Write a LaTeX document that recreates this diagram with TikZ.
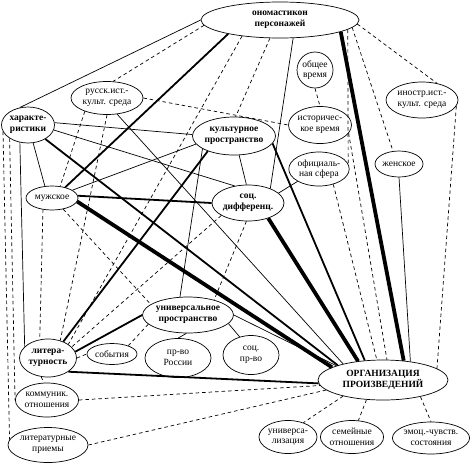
\documentclass[tikz,border=0pt]{standalone}
\usepackage{fontspec}
\setmainfont{Liberation Serif}
\usetikzlibrary{shapes.geometric}
\begin{document}
\begin{tikzpicture}[x=1pt,y=-1pt,
  nd/.style={draw,ellipse,inner sep=0pt,align=center,line width=0.7pt,
    font=\fontsize{9.5}{10.5}\selectfont},
  bn/.style={nd,font=\fontsize{9.5}{10.5}\selectfont\bfseries},
  tn/.style={line width=0.7pt},
  tk/.style={line width=1.8pt},
  vt/.style={line width=3.8pt},
  ds/.style={line width=0.7pt,dash pattern=on 3.5pt off 3pt}]
\useasboundingbox (0,0) rectangle (470,464);
% nodes
\node[bn,minimum width=158pt,minimum height=36pt] (onom) at (280,20) {ономастикон\\персонажей};
\node[nd,minimum width=72pt,minimum height=33pt] (russk) at (107,98) {русск.ист.-\\культ. среда};
\node[bn,minimum width=53pt,minimum height=36pt] (harakt) at (28,125) {характе-\\ристики};
\node[nd,minimum width=36pt,minimum height=36pt] (obsh) at (315,70) {общее\\время};
\node[nd,minimum width=62pt,minimum height=37pt] (istor) at (320,125) {историчес-\\кое время};
\node[nd,minimum width=72pt,minimum height=36pt] (inostr) at (422,100) {иностр.ист.-\\культ. среда};
\node[bn,minimum width=82pt,minimum height=38pt] (kult) at (234,136) {культурное\\пространство};
\node[nd,minimum width=60pt,minimum height=34pt] (ofic) at (319,169) {официаль-\\ная сфера};
\node[nd,minimum width=48pt,minimum height=26pt] (zhen) at (399,164) {женское};
\node[nd,minimum width=52pt,minimum height=24pt] (muzh) at (52,198) {мужское};
\node[bn,minimum width=72pt,minimum height=36pt] (soc) at (248,203) {соц.\\дифференц.};
\node[bn,minimum width=87pt,minimum height=36pt] (univ) at (188,315) {универсальное\\пространство};
\node[bn,minimum width=57pt,minimum height=38pt] (lit) at (48,358) {литера-\\турность};
\node[nd,minimum width=50pt,minimum height=21pt] (sob) at (112,354) {события};
\node[nd,minimum width=66pt,minimum height=39pt] (prRos) at (178,358) {пр-во\\России};
\node[nd,minimum width=56pt,minimum height=39pt] (socpr) at (251,355) {соц.\\пр-во};
\node[bn,minimum width=130pt,minimum height=40pt] (org) at (383,380) {ОРГАНИЗАЦИЯ\\ПРОИЗВЕДЕНИЙ};
\node[nd,minimum width=61pt,minimum height=34pt] (komm) at (47,400) {коммуник.\\отношения};
\node[nd,minimum width=80pt,minimum height=35pt] (litpr) at (48,445) {литературные\\приемы};
\node[nd,minimum width=58pt,minimum height=33pt] (univl) at (288,437) {универса-\\лизация};
\node[nd,minimum width=51pt,minimum height=33pt] (sem) at (352,437) {семейные\\отношения};
\node[nd,minimum width=76pt,minimum height=32pt] (emoc) at (431,438) {эмоц.-чувств.\\состояния};
% onom
\draw[tn] (onom.west) -- (harakt.115);
\draw[ds] (onom.184) -- (russk.70);
\draw[tk] (onom.195) -- (muzh.39);
\draw[ds] (onom.203) -- (lit.34);
\draw[ds] (onom.241) -- (kult.85);
\draw[tn] (onom.306) -- (soc.33);
\draw[vt] (onom.349) -- (org.43);
\draw[ds] (onom.352) -- (ofic.10);
\draw[ds] (onom.354) -- (zhen.115);
\draw[ds] (onom.357) -- (inostr.48);
% russk
\draw[ds] (russk.east) -- (istor.west);
\draw[ds] (russk.211) -- (muzh.55);
\draw[ds] (russk.south) -- (lit.55);
\draw[tn] (russk.302) -- (org.158);
% harakt
\draw[tn] (harakt.5) -- (kult.178);
\draw[tn] (harakt.349) -- (soc.128);
\draw[tk] (harakt.321) -- (org.162);
\draw[tn] (harakt.286) -- (muzh.121);
\draw[tn] (harakt.245) -- (lit.154);
\draw[ds] (harakt.216) -- (komm.west);
\draw[ds] (harakt.195) -- (litpr.172);
% upper right
\draw[ds] (obsh.south) -- (istor.north);
\draw[ds] (istor.344) -- (org.79);
\draw[ds] (ofic.313) -- (org.107);
\draw[tn] (ofic.210) -- (soc.18);
\draw[ds] (inostr.350) -- (org.12);
\draw[tn] (zhen.south) -- (org.34);
% kult
\draw[tn] (kult.192) -- (muzh.21);
\draw[tn] (kult.285) -- (soc.95);
\draw[tk] (kult.210) -- (lit.47);
\draw[tk] (kult.349) -- (org.133);
\draw[tn] (kult.202) -- (univ.114);
% muzh
\draw[tk] (muzh.5) -- (soc.180);
\draw[vt] (muzh.352) -- (org.166);
\draw[ds] (muzh.232) -- (lit.114);
\draw[ds] (muzh.315) -- (univ.164);
% soc
\draw[vt] (soc.323) -- (org.143);
\draw[ds] (soc.205) -- (lit.25);
\draw[ds] (soc.265) -- (univ.30);
% univ
\draw[tk] (univ.west) -- (lit.13);
\draw[ds] (univ.193) -- (sob.27);
\draw[tn] (univ.265) -- (prRos.north);
\draw[tn] (univ.348) -- (socpr.122);
\draw[tn] (univ.east) -- (org.163);
% lit
\draw[ds] (lit.east) -- (sob.west);
\draw[tk] (lit.326) -- (org.183);
\draw[ds] (lit.250) -- (komm.100);
% bottom
\draw[ds] (komm.east) -- (org.185);
\draw[ds] (litpr.east) -- (org.190);
\draw[ds] (org.202) -- (univl.43);
\draw[ds] (org.230) -- (sem.69);
\draw[ds] (org.336) -- (emoc.north);
\end{tikzpicture}
\end{document}
